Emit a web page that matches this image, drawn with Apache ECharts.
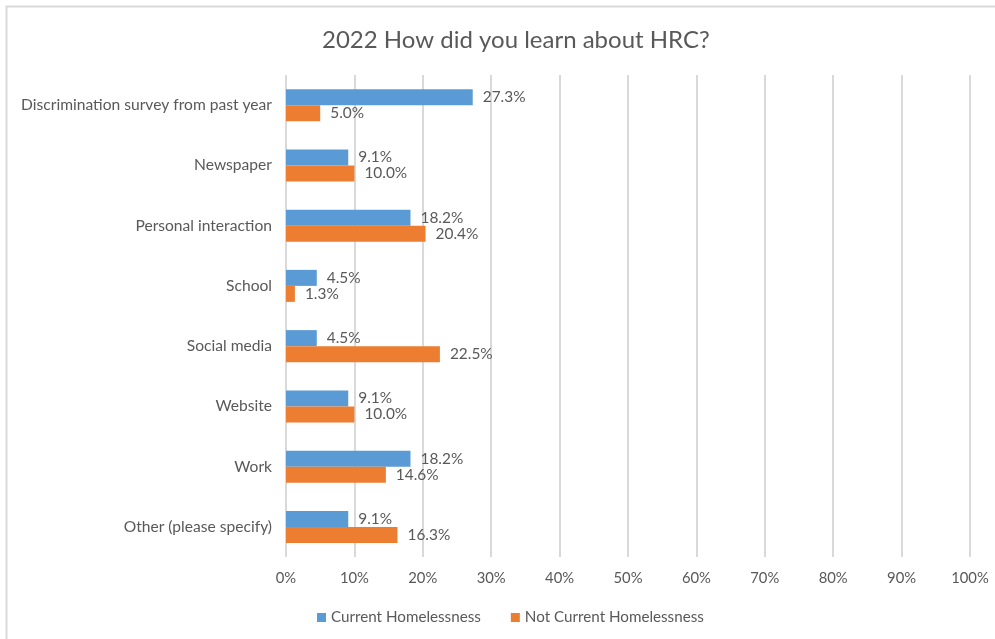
<!DOCTYPE html>
<html>
<head>
<meta charset="utf-8">
<script src="https://cdn.jsdelivr.net/npm/echarts@6/dist/echarts.min.js"></script>
<style>
  html, body { margin: 0; padding: 0; background: #fff; }
  #chart { width: 995px; height: 639px; }
</style>
</head>
<body>
<div id="chart"></div>
<script>
// Survey answers, listed top to bottom
const categories = [
  'Discrimination survey from past year',
  'Newspaper',
  'Personal interaction',
  'School',
  'Social media',
  'Website',
  'Work',
  'Other (please specify)'
];
const currentHomelessness = [27.3, 9.1, 18.2, 4.5, 4.5, 9.1, 18.2, 9.1];
const notCurrentHomelessness = [5.0, 10.0, 20.4, 1.3, 22.5, 10.0, 14.6, 16.3];
const seriesNames = ['Current Homelessness', 'Not Current Homelessness'];
const titleText = '2022 How did you learn about HRC?';

const textColor = '#595959';
const fontFamily = 'Lato, "Open Sans", sans-serif';

const chart = echarts.init(document.getElementById('chart'));

const labelStyle = {
  show: true,
  position: 'right',
  distance: 10,
  color: textColor,
  fontSize: 15.4,
  fontFamily: fontFamily,
  formatter: p => p.value.toFixed(1) + '%'
};

chart.setOption({
  animation: false,
  backgroundColor: '#fff',
  title: {
    text: titleText,
    left: 317,
    top: 23,
    textStyle: { color: textColor, fontSize: 24, fontWeight: 'normal', fontFamily: fontFamily }
  },
  legend: {
    bottom: 9,
    left: 312,
    itemWidth: 9,
    itemHeight: 9,
    itemGap: 30,
    icon: 'rect',
    textStyle: { color: textColor, fontSize: 15.2, fontFamily: fontFamily },
    data: seriesNames
  },
  grid: { left: 286, right: 25, top: 75, bottom: 82 },
  xAxis: {
    type: 'value',
    min: 0,
    max: 100,
    interval: 10,
    axisLabel: { formatter: '{value}%', color: textColor, fontSize: 14.8, fontFamily: fontFamily, margin: 14 },
    axisLine: { show: false },
    axisTick: { show: false },
    splitLine: { lineStyle: { color: '#d9d9d9', width: 2 } }
  },
  yAxis: {
    type: 'category',
    data: categories,
    inverse: true,
    axisLabel: { color: textColor, fontSize: 15.6, fontFamily: fontFamily, margin: 14 },
    axisLine: { show: false },
    axisTick: { show: false }
  },
  series: [
    {
      name: seriesNames[0],
      type: 'bar',
      data: currentHomelessness,
      barWidth: 16,
      barGap: '0%',
      itemStyle: { color: '#5b9bd5' },
      label: labelStyle
    },
    {
      name: seriesNames[1],
      type: 'bar',
      data: notCurrentHomelessness,
      barWidth: 16,
      barGap: '0%',
      itemStyle: { color: '#ed7d31' },
      label: labelStyle
    }
  ],
  graphic: [
    {
      type: 'rect',
      shape: { x: 6.5, y: 6.5, width: 1000, height: 700 },
      style: { fill: null, stroke: '#d9d9d9', lineWidth: 2 },
      silent: true
    }
  ]
});
</script>
</body>
</html>
